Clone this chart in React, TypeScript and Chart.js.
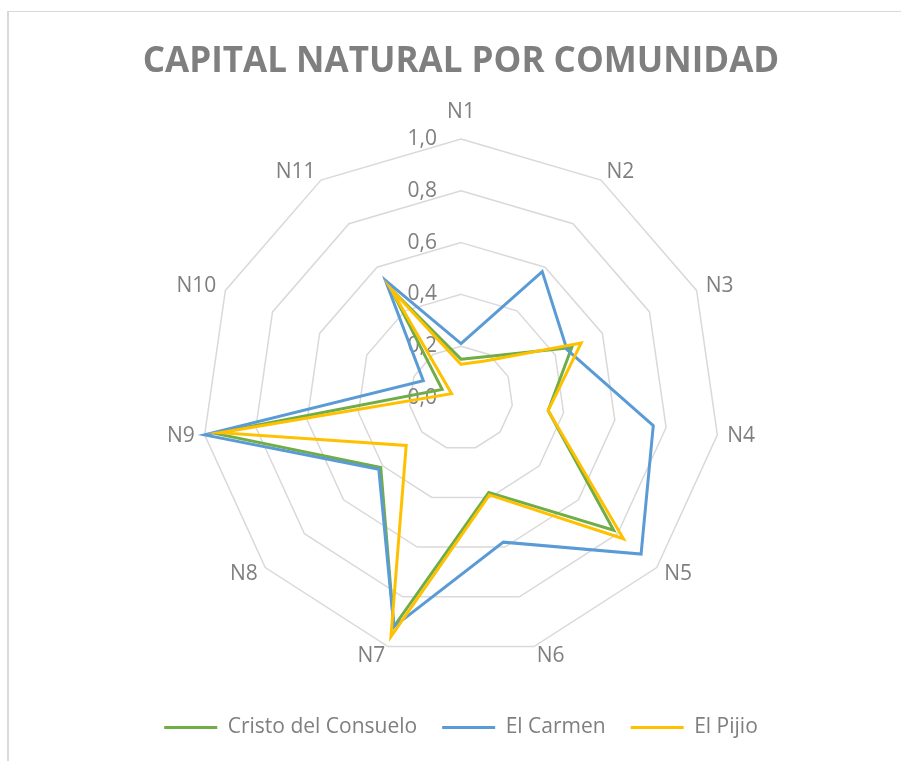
import React, { useEffect, useRef } from "react";
import { Chart, registerables } from "chart.js";

Chart.register(...registerables);

const CATEGORIES = ["N1", "N2", "N3", "N4", "N5", "N6", "N7", "N8", "N9", "N10", "N11"];
const CRISTO = [0.15, 0.19, 0.47, 0.34, 0.78, 0.38, 0.92, 0.41, 0.96, 0.08, 0.5];
const CARMEN = [0.21, 0.58, 0.45, 0.75, 0.92, 0.58, 0.92, 0.42, 1.0, 0.16, 0.54];
const PIJIO = [0.13, 0.17, 0.51, 0.34, 0.83, 0.39, 0.96, 0.28, 0.94, 0.04, 0.5];
const TICK_LABELS = ["0,0", "0,2", "0,4", "0,6", "0,8", "1,0"];
const TITLE = "CAPITAL NATURAL POR COMUNIDAD";

const TEXT_COLOR = "#7f7f7f";
const FONT = '"Open Sans"';

const labelsPlugin = {
  id: "excelLabels",
  beforeDatasetsDraw(chart: any) {
    const scale = chart.scales.r;
    const ctx = chart.ctx;
    ctx.save();
    ctx.fillStyle = TEXT_COLOR;
    ctx.font = `21px ${FONT}`;
    ctx.textBaseline = "middle";
    ctx.textAlign = "right";
    scale.ticks.forEach((t: any, k: number) => {
      const d = scale.getDistanceFromCenterForValue(t.value);
      ctx.fillText(TICK_LABELS[k] ?? "", scale.xCenter - 24, scale.yCenter - d);
    });
    const R = scale.drawingArea;
    (chart.data.labels as string[]).forEach((lab, i) => {
      const pos = scale.getPointPosition(i, R + 10);
      const c = Math.cos(pos.angle);
      if (Math.abs(c) < 0.01) {
        const p = scale.getPointPosition(i, R + 27);
        ctx.textAlign = "center";
        ctx.fillText(lab, p.x, p.y);
      } else {
        ctx.textAlign = c > 0 ? "left" : "right";
        ctx.fillText(lab, pos.x, pos.y);
      }
    });
    ctx.restore();
  },
};

export default function App() {
  const canvasRef = useRef<HTMLCanvasElement | null>(null);

  useEffect(() => {
    if (!canvasRef.current) return;
    const chart = new Chart(canvasRef.current, {
      type: "radar",
      data: {
        labels: CATEGORIES,
        datasets: [
          {
            label: "Cristo del Consuelo",
            data: CRISTO,
            borderColor: "#70AD47",
            backgroundColor: "#70AD47",
            borderWidth: 3,
            fill: false,
            pointRadius: 0,
            pointHoverRadius: 0,
            order: 3,
          },
          {
            label: "El Carmen",
            data: CARMEN,
            borderColor: "#5B9BD5",
            backgroundColor: "#5B9BD5",
            borderWidth: 3,
            fill: false,
            pointRadius: 0,
            pointHoverRadius: 0,
            order: 2,
          },
          {
            label: "El Pijio",
            data: PIJIO,
            borderColor: "#FFC000",
            backgroundColor: "#FFC000",
            borderWidth: 3,
            fill: false,
            pointRadius: 0,
            pointHoverRadius: 0,
            order: 1,
          },
        ],
      },
      options: {
        animation: false,
        responsive: true,
        maintainAspectRatio: false,
        events: [],
        layout: { padding: { left: 21, right: 0, top: 0, bottom: 13 } },
        scales: {
          r: {
            min: 0,
            max: 1,
            ticks: {
              stepSize: 0.2,
              display: false,
              callback: (_v: any, i: number) => TICK_LABELS[i] ?? "",
            },
            grid: { color: "#d9d9d9", lineWidth: 1.5 },
            angleLines: { display: false },
            pointLabels: { display: false },
          },
        },
        plugins: {
          tooltip: { enabled: false },
          title: {
            display: true,
            text: TITLE,
            color: TEXT_COLOR,
            font: { family: FONT, size: 35, weight: "bold", lineHeight: 1.2 },
            padding: { top: 41, bottom: 56 },
          },
          legend: {
            display: true,
            position: "bottom",
            title: {
              display: true,
              text: "",
              padding: 0,
              font: { size: 34, lineHeight: 1 },
            },
            labels: {
              color: TEXT_COLOR,
              font: { family: FONT, size: 21 },
              boxWidth: 53,
              boxHeight: 0,
              padding: 25,
              sort: (a: any, b: any) => a.datasetIndex - b.datasetIndex,
            },
          },
        },
      } as any,
      plugins: [labelsPlugin],
    });
    return () => chart.destroy();
  }, []);

  return (
    <div
      style={{
        position: "absolute",
        left: 0,
        top: 0,
        width: 901,
        height: 761,
        overflow: "hidden",
        background: "#ffffff",
      }}
    >
      <div
        style={{
          position: "absolute",
          left: 7,
          top: 11,
          width: 1000,
          height: 1000,
          borderLeft: "2px solid #d9d9d9",
          borderTop: "1px solid #d9d9d9",
        }}
      />
      <div style={{ position: "absolute", left: 0, top: 0, width: 901, height: 761 }}>
        <canvas ref={canvasRef} />
      </div>
    </div>
  );
}
